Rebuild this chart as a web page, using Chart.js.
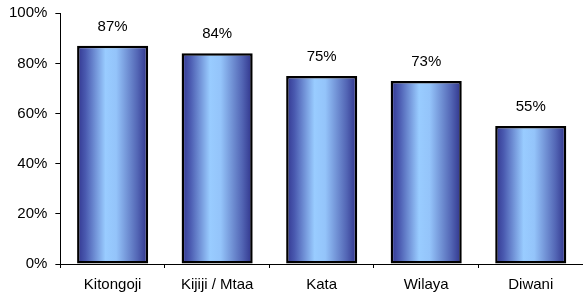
<!DOCTYPE html>
<html>
<head>
<meta charset="utf-8">
<script src="https://cdn.jsdelivr.net/npm/chart.js@4"></script>
<style>
  html, body { margin: 0; padding: 0; background: #fff; }
  #wrap { width: 583px; height: 294px; }
</style>
</head>
<body>
<div id="wrap"><canvas id="myChart" width="583" height="294"></canvas></div>
<script>
const categories = ['Kitongoji', 'Kijiji / Mtaa', 'Kata', 'Wilaya', 'Diwani'];
const values = [87, 84, 75, 73, 55];

const barPct = 0.68;
const fontFamily = '"Liberation Sans", Arial, sans-serif';

// horizontal dark-light-dark shading for each bar
function barFill(context) {
  const chart = context.chart;
  const x = chart.scales.x;
  if (!x || context.dataIndex === undefined) return '#6699ff';
  const center = x.getPixelForValue(context.dataIndex);
  const half = (x.width / categories.length) * barPct / 2;
  if (!isFinite(center) || !isFinite(half) || half <= 0) return '#6699ff';
  const g = chart.ctx.createLinearGradient(center - half, 0, center + half, 0);
  g.addColorStop(0, '#31358f');
  g.addColorStop(0.12, '#4a5ab0');
  g.addColorStop(0.4, '#99ccff');
  g.addColorStop(0.55, '#94c4fa');
  g.addColorStop(0.85, '#5366b5');
  g.addColorStop(1, '#2e3189');
  return g;
}

const valueLabels = {
  id: 'valueLabels',
  afterDatasetsDraw(chart) {
    const ctx = chart.ctx;
    const meta = chart.getDatasetMeta(0);
    ctx.save();
    ctx.font = '15px ' + fontFamily;
    ctx.fillStyle = '#000';
    ctx.textAlign = 'center';
    ctx.textBaseline = 'alphabetic';
    meta.data.forEach((bar, i) => {
      ctx.fillText(values[i] + '%', bar.x, bar.y - 15);
    });
    ctx.restore();
  }
};

const ctx = document.getElementById('myChart').getContext('2d');
new Chart(ctx, {
  type: 'bar',
  data: {
    labels: categories,
    datasets: [{
      data: values,
      backgroundColor: barFill,
      borderColor: '#000',
      borderWidth: 2.5,
      borderSkipped: false,
      barPercentage: barPct,
      categoryPercentage: 1
    }]
  },
  options: {
    responsive: false,
    animation: false,
    layout: { padding: { top: 0, right: 0, left: 1, bottom: -8 } },
    plugins: {
      legend: { display: false },
      tooltip: { enabled: false }
    },
    scales: {
      x: {
        grid: { drawOnChartArea: false, color: '#000', tickLength: 4, offset: true },
        border: { color: '#000', width: 1 },
        ticks: { color: '#000', font: { family: fontFamily, size: 15 }, padding: 8, maxRotation: 0 }
      },
      y: {
        min: 0,
        max: 100,
        grid: { drawOnChartArea: false, color: '#000', tickLength: 5 },
        border: { color: '#000', width: 1 },
        ticks: {
          stepSize: 20,
          color: '#000',
          padding: 8,
          font: { family: fontFamily, size: 15, lineHeight: 0.7 },
          callback: v => v + '%'
        }
      }
    }
  },
  plugins: [valueLabels]
});
</script>
</body>
</html>
